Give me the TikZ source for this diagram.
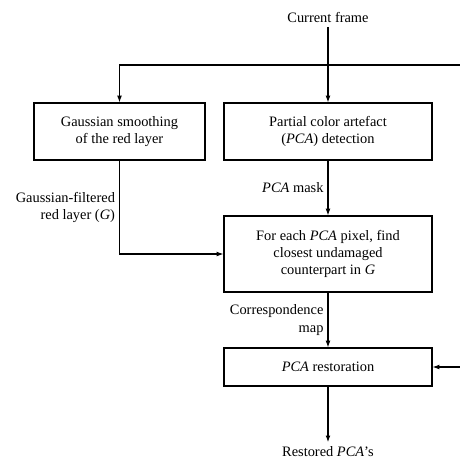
\documentclass[tikz,border=0pt]{standalone}
\usepackage{fontspec}
\setmainfont{Liberation Serif}
\usetikzlibrary{arrows.meta}
\tikzset{
  block/.style={draw, line width=0.9pt, align=center, inner sep=0pt},
  flow/.style={line width=0.8pt, -{Latex[length=5pt,width=3.6pt]}},
  lbl/.style={align=right, inner sep=3pt}
}
\begin{document}
\begin{tikzpicture}[x=0.75pt, y=-0.75pt, font=\fontsize{10.8}{13}\selectfont]
\useasboundingbox (0,0) rectangle (460,462);
\node (cur) at (328,17) {Current frame};
\node[block, minimum width=171*0.75pt, minimum height=57*0.75pt] (gauss) at (119.5,131.5) {Gaussian smoothing\\of the red layer};
\node[block, minimum width=208*0.75pt, minimum height=57*0.75pt] (pcad) at (328,131.5) {Partial color artefact\\(\textit{PCA}) detection};
\node[block, minimum width=208*0.75pt, minimum height=76*0.75pt] (find) at (328,254) {For each \textit{PCA} pixel, find\\closest undamaged\\counterpart in \textit{G}};
\node[block, minimum width=208*0.75pt, minimum height=38*0.75pt] (rest) at (328,367) {\textit{PCA} restoration};
\node (out) at (328,452) {Restored \textit{PCA}'s};
\coordinate (split) at (460,65);
\coordinate (side) at (460,367);
\draw[flow] (cur) -- (pcad);
\draw[flow] (split) -| (gauss);
\draw[flow] (gauss) |- (find) node[pos=0.25, left, lbl] {Gaussian-filtered\\red layer (\textit{G})};
\draw[flow] (pcad) -- (find) node[midway, left, lbl] {\textit{PCA} mask};
\draw[flow] (find) -- (rest) node[midway, left, lbl] {Correspondence\\map};
\draw[flow] (side) -- (rest);
\draw[flow] (rest) -- (out);
\end{tikzpicture}
\end{document}
